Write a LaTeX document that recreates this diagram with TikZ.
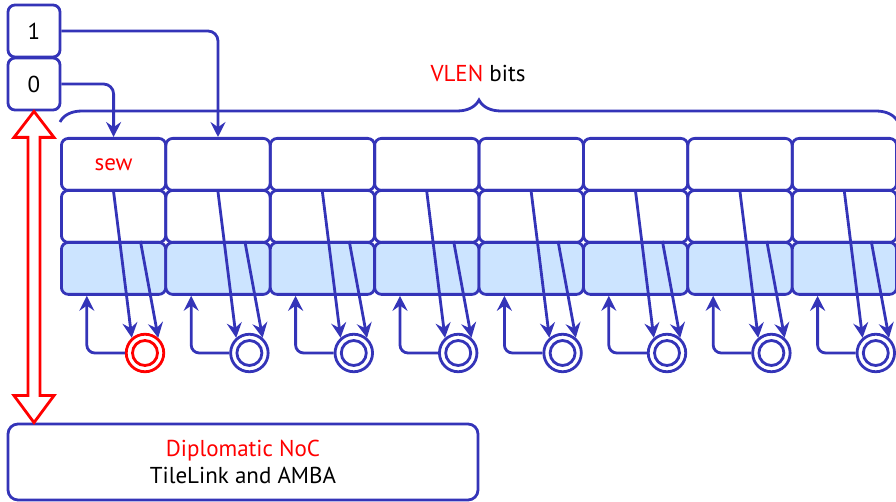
\documentclass[tikz,border=0pt]{standalone}
\usepackage{fontspec}
\setmainfont{PT Sans}
\usetikzlibrary{arrows.meta,calc,decorations.pathreplacing}
\definecolor{vblue}{RGB}{52,52,184}
\definecolor{regfill}{RGB}{204,228,255}
\tikzset{
  lane/.style={draw=vblue, line width=1.4pt, rounded corners=3.5pt, inner sep=0pt,
    minimum width=52.2pt, minimum height=26pt, anchor=north west},
  selbox/.style={draw=vblue, line width=1.4pt, rounded corners=3.5pt, inner sep=0pt,
    minimum size=26pt, font=\fontsize{11.5pt}{13.5pt}\selectfont},
  ring/.style={circle, draw=#1, line width=1.4pt, minimum size=18.75pt, inner sep=0pt},
  innerring/.style={circle, draw=#1, line width=1.4pt, minimum size=12.5pt, inner sep=0pt},
  conn/.style={draw=vblue, line width=1.4pt, -{Stealth[length=7.5pt,width=7.5pt,inset=2.6pt]}},
  lbl/.style={font=\fontsize{11.5pt}{13.5pt}\selectfont, inner sep=1pt}
}
\begin{document}
\begin{tikzpicture}[x=0.5pt,y=-0.5pt]
\useasboundingbox (0,0) rectangle (896,502);

% selector boxes
\node[selbox] (one) at (34,31) {1};
\node[selbox] (zero) at (34,84) {0};

% register lanes: three rows of eight elements, with an output ring per lane
\foreach \i/\col in {0/red,1/vblue,2/vblue,3/vblue,4/vblue,5/vblue,6/vblue,7/vblue}{
  \pgfmathsetmacro\xa{60+104.4*\i}
  \node[lane] (ra-\i) at (\xa,137) {};
  \node[lane] (rb-\i) at (\xa,189) {};
  \node[lane, fill=regfill] (rc-\i) at (\xa,241) {};
  \node[ring=\col] (o-\i) at (\xa+85,353) {};
  \node[innerring=\col] (n-\i) at (o-\i.center) {};
}
\node[lbl, text=red] (sew) at (ra-0.center) {sew};

% lane connections
\foreach \i in {0,...,7}{
  \draw[conn] (ra-\i.south) -- (o-\i.131);
  \draw[conn] ($(rc-\i.north)!0.5!(rc-\i.north east)$) -- (o-\i.49);
  \draw[conn, rounded corners=4pt] (o-\i.west) -| ($(rc-\i.south west)!0.5!(rc-\i.south)$);
}

% selector connections
\draw[conn, rounded corners=5pt] (one.east) -| (ra-1.north);
\draw[conn, rounded corners=5pt] (zero.east) -| (ra-0.north);

% width brace
\draw[draw=vblue, line width=1.4pt, decorate, decoration={brace, amplitude=11pt}]
  ([yshift=7.5pt]ra-0.north west) -- ([yshift=7.5pt]ra-7.north east);
\node[lbl] (vlen) at (478,73) {\textcolor{red}{VLEN} bits};

% interconnect box
\node[draw=vblue, line width=1.4pt, rounded corners=5pt, minimum width=235pt,
  minimum height=38pt, align=center, font=\fontsize{11.5pt}{13.5pt}\selectfont]
  (noc) at (243,462) {\textcolor{red}{Diplomatic NoC}\\TileLink and AMBA};

% bidirectional transfer arrow
\coordinate (ttop) at (zero.south);
\coordinate (tbot) at (zero.south |- noc.north);
\draw[red, line width=1.4pt, fill=white, line join=miter]
  (ttop) -- ++(20,26) -- ++(-14,0) -- ($(tbot)+(6,-27)$) -- ++(14,0) -- (tbot)
  -- ++(-20,-27) -- ++(14,0) -- ($(ttop)+(-6,26)$) -- ++(-14,0) -- cycle;
\end{tikzpicture}
\end{document}
